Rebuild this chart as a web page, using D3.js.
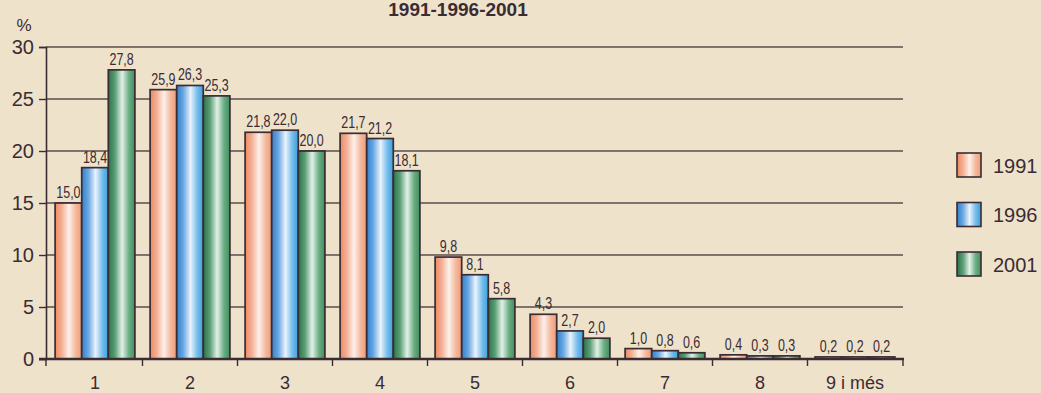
<!DOCTYPE html>
<html><head><meta charset="utf-8">
<script src="https://cdn.jsdelivr.net/npm/d3@7"></script>
<style>
html,body{margin:0;padding:0;background:#eee2cb;}
svg{display:block;}
</style></head>
<body>
<svg id="chart" width="1041" height="393"></svg>
<script>
const categories = ["1","2","3","4","5","6","7","8","9 i més"];
const seriesNames = ["1991","1996","2001"];
const values1991 = [15.0,25.9,21.8,21.7,9.8,4.3,1.0,0.4,0.2];
const values1996 = [18.4,26.3,22.0,21.2,8.1,2.7,0.8,0.3,0.2];
const values2001 = [27.8,25.3,20.0,18.1,5.8,2.0,0.6,0.3,0.2];
const yTicks = [0,5,10,15,20,25,30];
const titleText = "1991-1996-2001";

const series = [values1991, values1996, values2001];
const svg = d3.select("#chart");
const W = 1041, H = 393;
svg.append("rect").attr("width",W).attr("height",H).attr("fill","#eee2cb");

const ink = "#3b2b33";
const edgeL = ["#ec8a62","#3180cc","#2a744a"];
const edgeL2 = ["#f3b094","#6aa8e2","#5a9e74"];
const edgeR2 = ["#f4b89c","#74bceb","#6aae82"];
const edgeR = ["#ef9c78","#3aa0dc","#3f8e5e"];
const mid  = ["#fcf0ea","#eaf3fb","#e2f1e8"];
const font = "Liberation Sans, Arial, Helvetica, sans-serif";

const defs = svg.append("defs");
series.forEach((s,i)=>{
  const g = defs.append("linearGradient").attr("id","g"+i).attr("x1","0%").attr("x2","100%").attr("y1","0%").attr("y2","0%");
  g.append("stop").attr("offset","0%").attr("stop-color",edgeL[i]);
  g.append("stop").attr("offset","25%").attr("stop-color",edgeL2[i]);
  g.append("stop").attr("offset","52%").attr("stop-color",mid[i]);
  g.append("stop").attr("offset","78%").attr("stop-color",edgeR2[i]);
  g.append("stop").attr("offset","100%").attr("stop-color",edgeR[i]);
});

const x0 = d3.scaleBand().domain(categories).range([47.5,902.5]).paddingInner(0.16).paddingOuter(0.08);
const x1 = d3.scaleBand().domain(seriesNames).range([0,x0.bandwidth()]);
const y = d3.scaleLinear().domain([0,30]).range([359,47]);
const axisX = 46, rightX = 903;

// title (at the top edge)
svg.append("text").attr("x",458).attr("y",16).attr("text-anchor","middle")
  .attr("font-family",font).attr("font-weight","bold")
  .attr("font-size",19).attr("fill",ink).text(titleText);

// gridlines
svg.append("g").selectAll("line").data(yTicks.filter(d=>d>0)).join("line")
  .attr("x1",axisX).attr("x2",rightX).attr("y1",d=>y(d)).attr("y2",d=>y(d))
  .attr("stroke","#5a4c4c").attr("stroke-width",1.4);

// y axis
const yAxis = d3.axisLeft(y).tickValues(yTicks).tickSize(7).tickPadding(5).tickFormat(d3.format("d"));
const gy = svg.append("g").attr("transform",`translate(${axisX},0)`).call(yAxis);
gy.select(".domain").attr("stroke",ink).attr("stroke-width",1.6);
gy.selectAll(".tick line").attr("stroke",ink).attr("stroke-width",1.4);
gy.selectAll(".tick text").attr("font-family",font).attr("font-size",20).attr("fill",ink);

svg.append("text").attr("x",24).attr("y",31).attr("text-anchor","middle")
  .attr("font-family",font).attr("font-size",17).attr("fill",ink).text("%");

// bars
const groups = svg.append("g").selectAll("g").data(categories).join("g")
  .attr("transform",d=>`translate(${x0(d)},0)`);
groups.each(function(cat,ci){
  const g = d3.select(this);
  seriesNames.forEach((sn,si)=>{
    const v = series[si][ci];
    g.append("rect").attr("x",x1(sn)).attr("width",x1.bandwidth())
      .attr("y",y(v)).attr("height",y(0)-y(v))
      .attr("fill",`url(#g${si})`).attr("stroke",ink).attr("stroke-width",1.7);
    g.append("text")
      .attr("transform",`translate(${x1(sn)+x1.bandwidth()/2},${y(v)-5}) scale(0.78,1)`)
      .attr("text-anchor","middle").attr("font-family",font)
      .attr("font-size",16).attr("fill",ink).text(d3.format(".1f")(v).replace(".",","));
  });
});

// x axis
const xAxis = d3.axisBottom(x0).tickSize(0).tickPadding(17);
const gx = svg.append("g").attr("transform",`translate(0,359)`).call(xAxis);
gx.select(".domain").remove();
gx.selectAll(".tick text").attr("font-family",font).attr("font-size",18).attr("fill",ink).attr("dy","0.71em");
svg.append("line").attr("x1",axisX-7).attr("x2",rightX+1).attr("y1",359).attr("y2",359).attr("stroke",ink).attr("stroke-width",2.4);
const bounds = [axisX].concat(categories.slice(1).map(c=>x0(c)-x0.step()*x0.paddingInner()/2)).concat([rightX]);
svg.append("g").selectAll("line").data(bounds).join("line")
  .attr("x1",d=>d).attr("x2",d=>d).attr("y1",359).attr("y2",366).attr("stroke",ink).attr("stroke-width",1.4);

// legend
const leg = svg.append("g").selectAll("g").data(seriesNames).join("g")
  .attr("transform",(d,i)=>`translate(957,${153+i*49.5})`);
leg.append("rect").attr("width",24).attr("height",24).attr("fill",(d,i)=>`url(#g${i})`).attr("stroke",ink).attr("stroke-width",1.6);
leg.append("text").attr("x",36).attr("y",19.5).attr("font-family",font)
  .attr("font-size",20).attr("fill",ink).text(d=>d);
</script>
</body></html>
